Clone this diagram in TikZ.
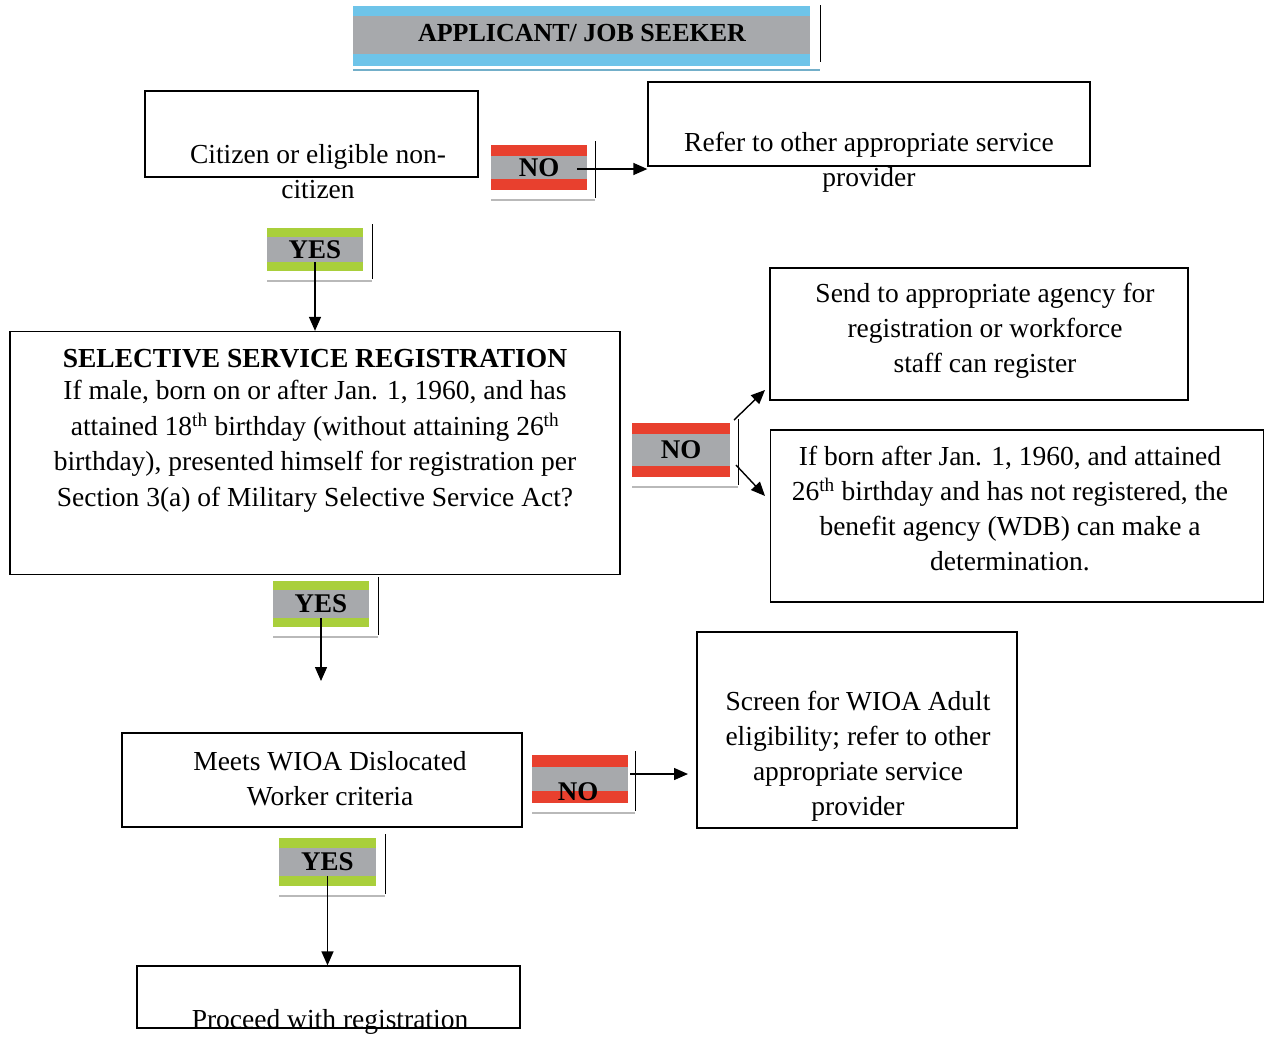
\documentclass[tikz,border=0pt]{standalone}
\usepackage{fontspec}
\setmainfont{Liberation Serif}
\usetikzlibrary{arrows.meta}
\definecolor{barred}{HTML}{E8402E}
\definecolor{bargreen}{HTML}{A9CF3B}
\definecolor{barblue}{HTML}{6EC4E9}
\definecolor{bargray}{HTML}{A7A9AC}
\newcommand\mybar[9]{%
  \fill[#6] (#2,#3) rectangle (#4,#5);
  \fill[bargray] (#2,{#3+#7}) rectangle (#4,{#5-#7});
  \coordinate (#1b) at ({(#2+#4)/2},{#5-#7});
  \node[tagtxt] (#1) at ({(#2+#4)/2},{(#3+#5)/2}) {#8};
  \draw[line width=1pt] (#9,{#3-4}) -- (#9,{#5+8});
  \draw[line width=1.6pt, gray!55] (#2,{#5+10}) -- (#9,{#5+10});
}
\begin{document}
\begin{tikzpicture}[x=1pt,y=-1pt,
  box/.style={draw, line width=1.3pt, inner sep=0pt},
  txt/.style={font=\fontsize{27.5}{35}\selectfont, align=center, inner sep=0pt},
  arr/.style={-{Triangle[length=14pt,width=12pt]}, line width=1.4pt},
  tagtxt/.style={font=\fontsize{27}{30}\selectfont\bfseries, inner sep=0pt}]
\useasboundingbox (0,0) rectangle (1266,1037);

% title
\fill[barblue] (353,6) rectangle (810,66);
\fill[bargray] (353,16) rectangle (810,54);
\node[font=\fontsize{26}{30}\selectfont\bfseries, inner sep=0pt] (title) at (582,33) {APPLICANT/ JOB SEEKER};
\draw[line width=1pt] (820,5) -- (820,62);
\draw[line width=2pt, barblue!70!gray] (353,70) -- (820,70);

% boxes
\node[box, minimum width=333pt, minimum height=86pt] (citizen) at (311.5,134) {};
\node[txt] (citizenT) at (318,172) {Citizen or eligible non-\\citizen};

\node[box, minimum width=442pt, minimum height=84pt] (refer) at (869,124) {};
\node[txt] (referT) at (869,162) {Refer to other appropriate service\\provider};

\node[box, minimum width=610pt, minimum height=243pt] (sel) at (315,453) {};
\node[txt, anchor=north, font=\fontsize{27.5}{35.5}\selectfont] (selT) at (315,349) {\textbf{SELECTIVE SERVICE REGISTRATION}\\[-3pt]If male, born on or after Jan. 1, 1960, and has\\attained 18\textsuperscript{th} birthday (without attaining 26\textsuperscript{th}\\birthday), presented himself for registration per\\Section 3(a) of Military Selective Service Act?};

\node[box, minimum width=418pt, minimum height=132pt] (send) at (979,334) {};
\node[txt] (sendT) at (985,331) {Send to appropriate agency for\\registration or workforce\\staff can register};

\node[box, minimum width=493pt, minimum height=172pt] (born) at (1017,516) {};
\node[txt] (bornT) at (1010,509) {If born after Jan. 1, 1960, and attained\\26\textsuperscript{th} birthday and has not registered, the\\benefit agency (WDB) can make a\\determination.};

\node[box, minimum width=400pt, minimum height=94pt] (meets) at (322,780) {};
\node[txt] (meetsT) at (330,779) {Meets WIOA Dislocated\\Worker criteria};

\node[box, minimum width=320pt, minimum height=196pt] (screen) at (857,730) {};
\node[txt] (screenT) at (858,756) {Screen for WIOA Adult\\eligibility; refer to other\\appropriate service\\provider};

\node[box, minimum width=383pt, minimum height=62pt] (proceed) at (328.5,997) {};
\node[txt] (proceedT) at (330,1022) {Proceed with registration};

% tags
\mybar{no1}{491}{145}{587}{190}{barred}{11}{NO}{595}
\mybar{yes1}{267}{228}{363}{271}{bargreen}{9}{YES}{372}
\mybar{no2}{632}{423}{730}{477}{barred}{11}{NO}{738}
\mybar{yes2}{273}{581}{369}{627}{bargreen}{9}{YES}{378}
\mybar{no3}{532}{755}{628}{803}{barred}{12}{}{635}
\node[tagtxt] (no3t) at (578,792) {NO};
\mybar{yes3}{279}{838}{376}{886}{bargreen}{10}{YES}{385}

% connectors
\coordinate (n1s) at (577,169);
\draw[arr] (n1s) -- (refer.west |- n1s);
\draw[arr] (yes1b) -- (yes1b |- sel.north);
\coordinate (up) at (765,390);
\coordinate (dn) at (765,496);
\draw[arr] (734,420) -- (up);
\draw[arr] (736,465) -- (dn);
\coordinate (e2) at (321,681);
\draw[arr] (yes2b) -- (e2);
\coordinate (n3s) at (630,774);
\draw[arr] (n3s) -- (688,774);
\draw[arr] (yes3b) -- (yes3b |- proceed.north);
\end{tikzpicture}
\end{document}
